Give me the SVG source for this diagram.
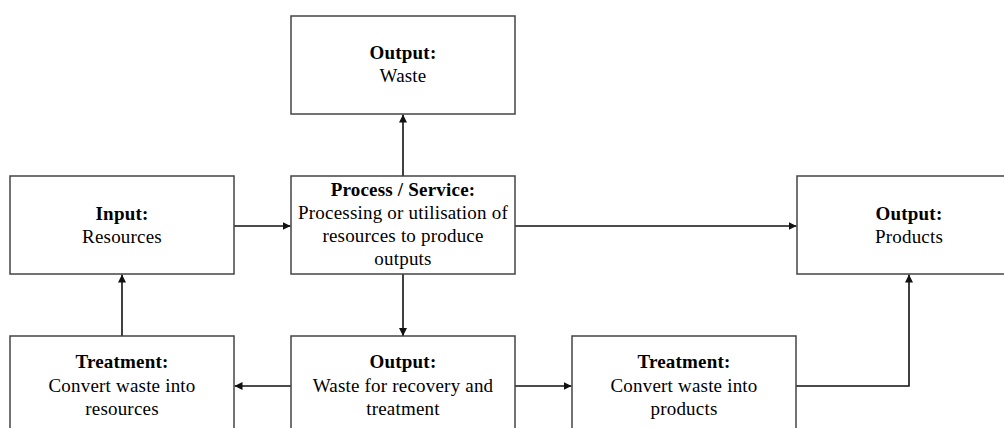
<svg xmlns="http://www.w3.org/2000/svg" width="1004" height="428" viewBox="0 0 1004 428">
  <style>
    .box { fill: #ffffff; stroke: #444444; stroke-width: 1.5; }
    .conn { fill: none; stroke: #111111; stroke-width: 1.6; marker-end: url(#arrow); }
    text { font-family: "Liberation Serif", "Times New Roman", serif; font-size: 19px; letter-spacing: 0.2px; fill: #000000; text-anchor: middle; }
    .title { font-weight: bold; }
  </style>
  <defs>
    <marker id="arrow" viewBox="0 0 10 10" refX="10" refY="5" markerWidth="8" markerHeight="8" markerUnits="userSpaceOnUse" orient="auto">
      <path d="M0,0 L10,5 L0,10 z" fill="#111111"/>
    </marker>
  </defs>
  <rect width="1004" height="428" fill="#ffffff"/>

  <g id="connectors">
    <path class="conn" d="M403,176 L403,114.5"/>
    <path class="conn" d="M234,226 L290.5,226"/>
    <path class="conn" d="M515,226 L796.5,226"/>
    <path class="conn" d="M403,274 L403,336"/>
    <path class="conn" d="M291,386 L234.5,386"/>
    <path class="conn" d="M515,386 L571.5,386"/>
    <path class="conn" d="M122,336 L122,274.5"/>
    <path class="conn" d="M796,386 L909,386 L909,274.5"/>
  </g>

  <g id="output-waste">
    <rect class="box" x="291" y="16" width="224" height="98"/>
    <text x="403" y="59" class="title">Output:</text>
    <text x="403" y="82">Waste</text>
  </g>

  <g id="input-resources">
    <rect class="box" x="10" y="176" width="224" height="98"/>
    <text x="122" y="220" class="title">Input:</text>
    <text x="122" y="243">Resources</text>
  </g>

  <g id="process-service">
    <rect class="box" x="291" y="176" width="224" height="98"/>
    <text x="403" y="196" class="title">Process / Service:</text>
    <text x="403" y="219">Processing or utilisation of</text>
    <text x="403" y="242">resources to produce</text>
    <text x="403" y="265">outputs</text>
  </g>

  <g id="output-products">
    <rect class="box" x="797" y="176" width="224" height="98"/>
    <text x="909" y="220" class="title">Output:</text>
    <text x="909" y="243">Products</text>
  </g>

  <g id="treatment-resources">
    <rect class="box" x="10" y="336" width="224" height="98"/>
    <text x="122" y="368" class="title">Treatment:</text>
    <text x="122" y="392">Convert waste into</text>
    <text x="122" y="415">resources</text>
  </g>

  <g id="output-recovery">
    <rect class="box" x="291" y="336" width="224" height="98"/>
    <text x="403" y="368" class="title">Output:</text>
    <text x="403" y="392">Waste for recovery and</text>
    <text x="403" y="415">treatment</text>
  </g>

  <g id="treatment-products">
    <rect class="box" x="572" y="336" width="224" height="98"/>
    <text x="684" y="368" class="title">Treatment:</text>
    <text x="684" y="392">Convert waste into</text>
    <text x="684" y="415">products</text>
  </g>
</svg>
